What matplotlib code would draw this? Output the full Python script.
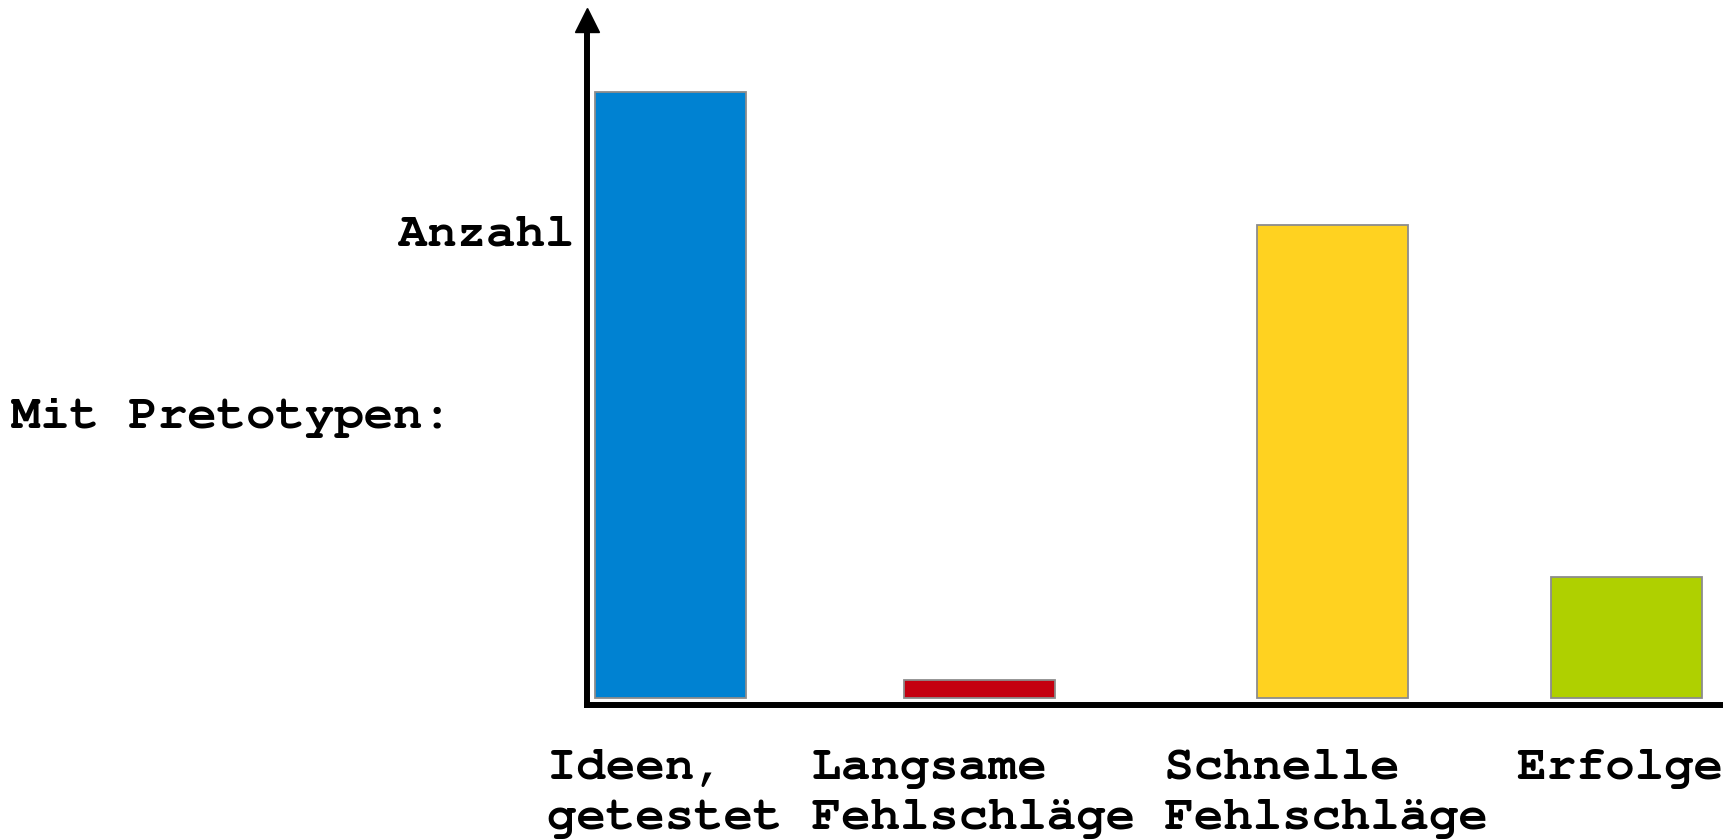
import matplotlib.pyplot as plt
import matplotlib.transforms as mtransforms

# data
categories = ["Ideen,\ngetestet", "Langsame\nFehlschläge", "Schnelle\nFehlschläge", "Erfolge"]
values = [100, 3, 78, 20]
colors = ["#0082D2", "#C40010", "#FFD220", "#AFD000"]
y_label = "Anzahl"
side_label = "Mit Pretotypen:"

W, H, DPI = 1723, 839, 100
FS = 35.3
FONT = ["Courier New", "Nimbus Mono PS", "FreeMono", "Liberation Mono"]
cw = 0.6 * FS * DPI / 72  # width of one monospace char in px


def main():
    fig = plt.figure(figsize=(W / DPI, H / DPI), dpi=DPI)

    # text columns of the category labels, bars sit in the middle of each column
    lines = [c.split("\n") for c in categories]
    maxlen = [max(len(s) for s in l) for l in lines]
    widths = [max(m + 1, 9) for m in maxlen]
    starts = [sum(widths[:i]) for i in range(len(widths))]
    centers = [s + (m + 0.4) / 2 for s, m in zip(starts, maxlen)]

    label_x0 = 547  # px where the label block starts
    ax_left, ax_right, ax_bottom, ax_top = 587, W, 705, 20
    ax = fig.add_axes([ax_left / W, 1 - ax_bottom / H, (ax_right - ax_left) / W, (ax_bottom - ax_top) / H])
    ax.set_xlim((ax_left - label_x0) / cw, (ax_right - label_x0) / cw)
    ax.set_ylim(-1.15, 111.9)

    ax.bar(centers, values, width=5.16, color=colors, edgecolor="#8c8c8c", linewidth=1.3)

    for side in ["top", "right"]:
        ax.spines[side].set_visible(False)
    ax.spines["left"].set_linewidth(4.3)
    ax.spines["bottom"].set_linewidth(4.3)
    ax.set_xticks([])
    ax.set_yticks([])
    ax.plot([0], [1], marker="^", markersize=17, color="black", transform=ax.transAxes, clip_on=False)

    # category labels, monospace columns
    n_lines = max(len(l) for l in lines)
    trans = mtransforms.blended_transform_factory(ax.transData, fig.transFigure)
    baselines = [779, 829]
    for k in range(n_lines):
        row = "".join((l[k] if k < len(l) else "").ljust(w) for l, w in zip(lines, widths))
        ax.text(0, 1 - baselines[k] / H, row.rstrip(), transform=trans, fontsize=FS,
                fontfamily=FONT, fontweight="bold", ha="left", va="baseline", clip_on=False)

    fig.text(574 / W, 1 - 245 / H, y_label, fontsize=FS, fontfamily=FONT, fontweight="bold",
             ha="right", va="baseline")
    fig.text(11 / W, 1 - 428 / H, side_label, fontsize=FS, fontfamily=FONT, fontweight="bold",
             ha="left", va="baseline")

    fig.savefig("out.png", dpi=DPI)


if __name__ == "__main__":
    main()
